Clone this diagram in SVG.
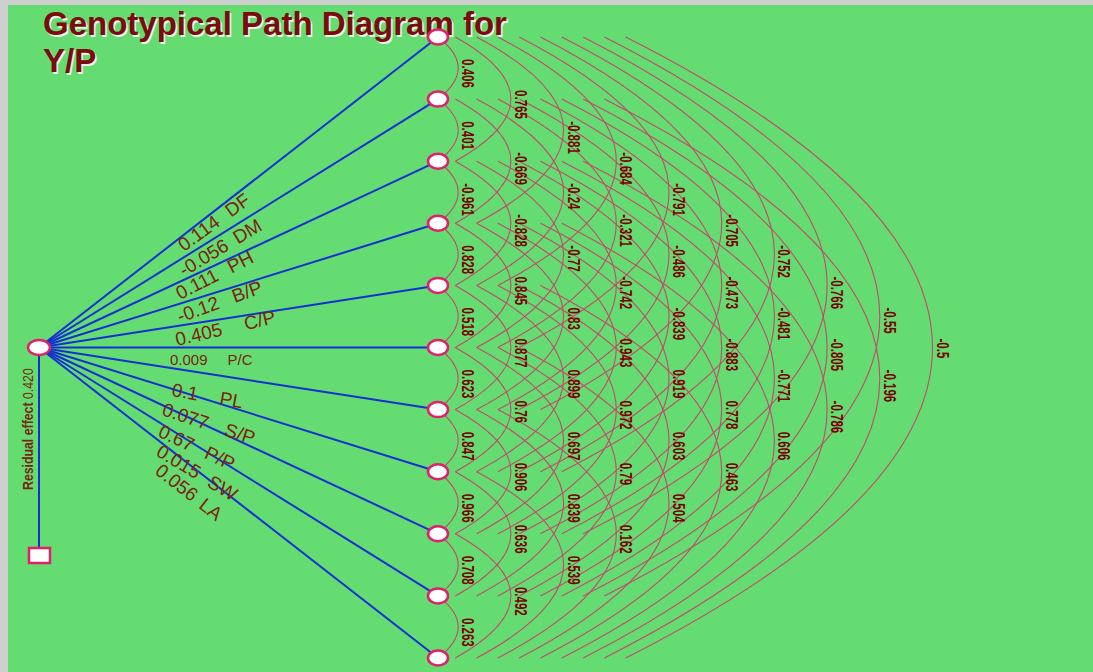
<svg xmlns="http://www.w3.org/2000/svg" width="1093" height="672" viewBox="0 0 1093 672">
<defs>
<style>
.arc{fill:none;stroke:#c04a6c;stroke-width:1.1}
.bl{stroke:#1530d0;stroke-width:2;fill:none}
.nd{fill:#ffffff;stroke:#e0206a;stroke-width:2.5}
.al{font-family:"Liberation Sans",Arial,sans-serif;font-weight:bold;font-size:16px;fill:#7a0000}
.pl{font-family:"Liberation Sans",Arial,sans-serif;font-size:19px;fill:#7a2410}
.ttl{font-family:"Liberation Sans",Arial,sans-serif;font-weight:bold;font-size:33px}
</style>
</defs>
<rect x="0" y="0" width="1093" height="672" fill="#cfcfcf"/>
<rect x="8" y="5" width="1085" height="667" fill="#65dc72"/>
<g id="title">
<text class="ttl" x="44.5" y="36.5" fill="#eeeeee">Genotypical Path Diagram for</text>
<text class="ttl" x="44.5" y="73.5" fill="#eeeeee">Y/P</text>
<text class="ttl" x="43" y="35" fill="#7a0c0c">Genotypical Path Diagram for</text>
<text class="ttl" x="43" y="72" fill="#7a0c0c">Y/P</text>
</g>
<g id="connectors">
<g id="arcs">
<path class="arc" d="M438 37 Q478.4 68.05 438 99.1"/>
<path class="arc" d="M438 99.1 Q478.4 130.15 438 161.2"/>
<path class="arc" d="M438 161.2 Q478.4 192.25 438 223.3"/>
<path class="arc" d="M438 223.3 Q478.4 254.35 438 285.4"/>
<path class="arc" d="M438 285.4 Q478.4 316.45 438 347.5"/>
<path class="arc" d="M438 347.5 Q478.4 378.55 438 409.6"/>
<path class="arc" d="M438 409.6 Q478.4 440.65 438 471.7"/>
<path class="arc" d="M438 471.7 Q478.4 502.75 438 533.8"/>
<path class="arc" d="M438 533.8 Q478.4 564.85 438 595.9"/>
<path class="arc" d="M438 595.9 Q478.4 626.95 438 658"/>
<path class="arc" d="M455.3 37 Q566.5 99.1 455.3 161.2"/>
<path class="arc" d="M455.3 99.1 Q566.5 161.2 455.3 223.3"/>
<path class="arc" d="M455.3 161.2 Q566.5 223.3 455.3 285.4"/>
<path class="arc" d="M455.3 223.3 Q566.5 285.4 455.3 347.5"/>
<path class="arc" d="M455.3 285.4 Q566.5 347.5 455.3 409.6"/>
<path class="arc" d="M455.3 347.5 Q566.5 409.6 455.3 471.7"/>
<path class="arc" d="M455.3 409.6 Q566.5 471.7 455.3 533.8"/>
<path class="arc" d="M455.3 471.7 Q566.5 533.8 455.3 595.9"/>
<path class="arc" d="M455.3 533.8 Q566.5 595.9 455.3 658"/>
<path class="arc" d="M476.6 37 Q650.6 130.15 476.6 223.3"/>
<path class="arc" d="M476.6 99.1 Q650.6 192.25 476.6 285.4"/>
<path class="arc" d="M476.6 161.2 Q650.6 254.35 476.6 347.5"/>
<path class="arc" d="M476.6 223.3 Q650.6 316.45 476.6 409.6"/>
<path class="arc" d="M476.6 285.4 Q650.6 378.55 476.6 471.7"/>
<path class="arc" d="M476.6 347.5 Q650.6 440.65 476.6 533.8"/>
<path class="arc" d="M476.6 409.6 Q650.6 502.75 476.6 595.9"/>
<path class="arc" d="M476.6 471.7 Q650.6 564.85 476.6 658"/>
<path class="arc" d="M497.9 37 Q734.7 161.2 497.9 285.4"/>
<path class="arc" d="M497.9 99.1 Q734.7 223.3 497.9 347.5"/>
<path class="arc" d="M497.9 161.2 Q734.7 285.4 497.9 409.6"/>
<path class="arc" d="M497.9 223.3 Q734.7 347.5 497.9 471.7"/>
<path class="arc" d="M497.9 285.4 Q734.7 409.6 497.9 533.8"/>
<path class="arc" d="M497.9 347.5 Q734.7 471.7 497.9 595.9"/>
<path class="arc" d="M497.9 409.6 Q734.7 533.8 497.9 658"/>
<path class="arc" d="M519.2 37 Q818.8 192.25 519.2 347.5"/>
<path class="arc" d="M519.2 99.1 Q818.8 254.35 519.2 409.6"/>
<path class="arc" d="M519.2 161.2 Q818.8 316.45 519.2 471.7"/>
<path class="arc" d="M519.2 223.3 Q818.8 378.55 519.2 533.8"/>
<path class="arc" d="M519.2 285.4 Q818.8 440.65 519.2 595.9"/>
<path class="arc" d="M519.2 347.5 Q818.8 502.75 519.2 658"/>
<path class="arc" d="M540.5 37 Q902.9 223.3 540.5 409.6"/>
<path class="arc" d="M540.5 99.1 Q902.9 285.4 540.5 471.7"/>
<path class="arc" d="M540.5 161.2 Q902.9 347.5 540.5 533.8"/>
<path class="arc" d="M540.5 223.3 Q902.9 409.6 540.5 595.9"/>
<path class="arc" d="M540.5 285.4 Q902.9 471.7 540.5 658"/>
<path class="arc" d="M561.8 37 Q987 254.35 561.8 471.7"/>
<path class="arc" d="M561.8 99.1 Q987 316.45 561.8 533.8"/>
<path class="arc" d="M561.8 161.2 Q987 378.55 561.8 595.9"/>
<path class="arc" d="M561.8 223.3 Q987 440.65 561.8 658"/>
<path class="arc" d="M583.1 37 Q1071.1 285.4 583.1 533.8"/>
<path class="arc" d="M583.1 99.1 Q1071.1 347.5 583.1 595.9"/>
<path class="arc" d="M583.1 161.2 Q1071.1 409.6 583.1 658"/>
<path class="arc" d="M604.4 37 Q1155.2 316.45 604.4 595.9"/>
<path class="arc" d="M604.4 99.1 Q1155.2 378.55 604.4 658"/>
<path class="arc" d="M625.7 37 Q1239.3 347.5 625.7 658"/>
</g>
<g id="arc-labels" class="al">
<text transform="translate(462.2,59.05) rotate(90) scale(0.72,1)">0.406</text>
<text transform="translate(462.2,121.15) rotate(90) scale(0.72,1)">0.401</text>
<text transform="translate(462.2,183.25) rotate(90) scale(0.72,1)">-0.961</text>
<text transform="translate(462.2,245.35) rotate(90) scale(0.72,1)">0.828</text>
<text transform="translate(462.2,307.45) rotate(90) scale(0.72,1)">0.518</text>
<text transform="translate(462.2,369.55) rotate(90) scale(0.72,1)">0.623</text>
<text transform="translate(462.2,431.65) rotate(90) scale(0.72,1)">0.847</text>
<text transform="translate(462.2,493.75) rotate(90) scale(0.72,1)">0.966</text>
<text transform="translate(462.2,555.85) rotate(90) scale(0.72,1)">0.708</text>
<text transform="translate(462.2,617.95) rotate(90) scale(0.72,1)">0.263</text>
<text transform="translate(514.9,90.1) rotate(90) scale(0.72,1)">0.765</text>
<text transform="translate(514.9,152.2) rotate(90) scale(0.72,1)">-0.669</text>
<text transform="translate(514.9,214.3) rotate(90) scale(0.72,1)">-0.828</text>
<text transform="translate(514.9,276.4) rotate(90) scale(0.72,1)">0.845</text>
<text transform="translate(514.9,338.5) rotate(90) scale(0.72,1)">0.877</text>
<text transform="translate(514.9,400.6) rotate(90) scale(0.72,1)">0.76</text>
<text transform="translate(514.9,462.7) rotate(90) scale(0.72,1)">0.906</text>
<text transform="translate(514.9,524.8) rotate(90) scale(0.72,1)">0.636</text>
<text transform="translate(514.9,586.9) rotate(90) scale(0.72,1)">0.492</text>
<text transform="translate(567.6,121.15) rotate(90) scale(0.72,1)">-0.881</text>
<text transform="translate(567.6,183.25) rotate(90) scale(0.72,1)">-0.24</text>
<text transform="translate(567.6,245.35) rotate(90) scale(0.72,1)">-0.77</text>
<text transform="translate(567.6,307.45) rotate(90) scale(0.72,1)">0.83</text>
<text transform="translate(567.6,369.55) rotate(90) scale(0.72,1)">0.899</text>
<text transform="translate(567.6,431.65) rotate(90) scale(0.72,1)">0.697</text>
<text transform="translate(567.6,493.75) rotate(90) scale(0.72,1)">0.839</text>
<text transform="translate(567.6,555.85) rotate(90) scale(0.72,1)">0.539</text>
<text transform="translate(620.3,152.2) rotate(90) scale(0.72,1)">-0.684</text>
<text transform="translate(620.3,214.3) rotate(90) scale(0.72,1)">-0.321</text>
<text transform="translate(620.3,276.4) rotate(90) scale(0.72,1)">-0.742</text>
<text transform="translate(620.3,338.5) rotate(90) scale(0.72,1)">0.943</text>
<text transform="translate(620.3,400.6) rotate(90) scale(0.72,1)">0.972</text>
<text transform="translate(620.3,462.7) rotate(90) scale(0.72,1)">0.79</text>
<text transform="translate(620.3,524.8) rotate(90) scale(0.72,1)">0.162</text>
<text transform="translate(673,183.25) rotate(90) scale(0.72,1)">-0.791</text>
<text transform="translate(673,245.35) rotate(90) scale(0.72,1)">-0.486</text>
<text transform="translate(673,307.45) rotate(90) scale(0.72,1)">-0.839</text>
<text transform="translate(673,369.55) rotate(90) scale(0.72,1)">0.919</text>
<text transform="translate(673,431.65) rotate(90) scale(0.72,1)">0.603</text>
<text transform="translate(673,493.75) rotate(90) scale(0.72,1)">0.504</text>
<text transform="translate(725.7,214.3) rotate(90) scale(0.72,1)">-0.705</text>
<text transform="translate(725.7,276.4) rotate(90) scale(0.72,1)">-0.473</text>
<text transform="translate(725.7,338.5) rotate(90) scale(0.72,1)">-0.883</text>
<text transform="translate(725.7,400.6) rotate(90) scale(0.72,1)">0.778</text>
<text transform="translate(725.7,462.7) rotate(90) scale(0.72,1)">0.463</text>
<text transform="translate(778.4,245.35) rotate(90) scale(0.72,1)">-0.752</text>
<text transform="translate(778.4,307.45) rotate(90) scale(0.72,1)">-0.481</text>
<text transform="translate(778.4,369.55) rotate(90) scale(0.72,1)">-0.771</text>
<text transform="translate(778.4,431.65) rotate(90) scale(0.72,1)">0.606</text>
<text transform="translate(831.1,276.4) rotate(90) scale(0.72,1)">-0.766</text>
<text transform="translate(831.1,338.5) rotate(90) scale(0.72,1)">-0.805</text>
<text transform="translate(831.1,400.6) rotate(90) scale(0.72,1)">-0.786</text>
<text transform="translate(883.8,307.45) rotate(90) scale(0.72,1)">-0.55</text>
<text transform="translate(883.8,369.55) rotate(90) scale(0.72,1)">-0.196</text>
<text transform="translate(936.5,338.5) rotate(90) scale(0.72,1)">-0.5</text>
</g>
<g id="paths">
<line class="bl" x1="39" y1="347.5" x2="438" y2="37"/>
<line class="bl" x1="39" y1="347.5" x2="438" y2="99.1"/>
<line class="bl" x1="39" y1="347.5" x2="438" y2="161.2"/>
<line class="bl" x1="39" y1="347.5" x2="438" y2="223.3"/>
<line class="bl" x1="39" y1="347.5" x2="438" y2="285.4"/>
<line class="bl" x1="39" y1="347.5" x2="438" y2="347.5"/>
<line class="bl" x1="39" y1="347.5" x2="438" y2="409.6"/>
<line class="bl" x1="39" y1="347.5" x2="438" y2="471.7"/>
<line class="bl" x1="39" y1="347.5" x2="438" y2="533.8"/>
<line class="bl" x1="39" y1="347.5" x2="438" y2="595.9"/>
<line class="bl" x1="39" y1="347.5" x2="438" y2="658"/>
<line class="bl" x1="39" y1="347.5" x2="39" y2="548"/>
</g>
<g id="path-labels" class="pl">
<text transform="translate(184,252) rotate(-36)">0.114<tspan dx="12">DF</tspan></text>
<text transform="translate(184,277) rotate(-31)">-0.056<tspan dx="9">DM</tspan></text>
<text transform="translate(180,300) rotate(-27)">0.111<tspan dx="13">PH</tspan></text>
<text transform="translate(180,323) rotate(-20)">-0.12<tspan dx="15">B/P</tspan></text>
<text transform="translate(177,346) rotate(-13)">0.405<tspan dx="23">C/P</tspan></text>
<text x="170" y="365" style="font-size:15px">0.009<tspan dx="20">P/C</tspan></text>
<text transform="translate(171,396) rotate(10)">0.1<tspan dx="22">PL</tspan></text>
<text transform="translate(161,415) rotate(18)">0.077<tspan dx="18">S/P</tspan></text>
<text transform="translate(157,436) rotate(25)">0.67<tspan dx="14">P/P</tspan></text>
<text transform="translate(155,455) rotate(31)">0.015<tspan dx="12">SW</tspan></text>
<text transform="translate(154,473) rotate(38)">0.056<tspan dx="8">LA</tspan></text>
</g>
</g>
<g id="node-YP"><ellipse class="nd" cx="39" cy="347.5" rx="11" ry="7.5"/></g>
<g id="node-residual"><rect class="nd" x="29" y="548" width="21" height="15"/></g>
<g id="residual-label"><text transform="translate(33,490) rotate(-90) scale(0.88,1)" style="font-family:'Liberation Sans',Arial,sans-serif;font-size:14px;fill:#7a2410"><tspan font-weight="bold">Residual effect</tspan> 0.420</text></g>
<g id="node-DF"><ellipse class="nd" cx="438" cy="37" rx="10" ry="7.5"/></g>
<g id="node-DM"><ellipse class="nd" cx="438" cy="99.1" rx="10" ry="7.5"/></g>
<g id="node-PH"><ellipse class="nd" cx="438" cy="161.2" rx="10" ry="7.5"/></g>
<g id="node-BP"><ellipse class="nd" cx="438" cy="223.3" rx="10" ry="7.5"/></g>
<g id="node-CP"><ellipse class="nd" cx="438" cy="285.4" rx="10" ry="7.5"/></g>
<g id="node-PC"><ellipse class="nd" cx="438" cy="347.5" rx="10" ry="7.5"/></g>
<g id="node-PL"><ellipse class="nd" cx="438" cy="409.6" rx="10" ry="7.5"/></g>
<g id="node-SP"><ellipse class="nd" cx="438" cy="471.7" rx="10" ry="7.5"/></g>
<g id="node-PP"><ellipse class="nd" cx="438" cy="533.8" rx="10" ry="7.5"/></g>
<g id="node-SW"><ellipse class="nd" cx="438" cy="595.9" rx="10" ry="7.5"/></g>
<g id="node-LA"><ellipse class="nd" cx="438" cy="658" rx="10" ry="7.5"/></g>
</svg>
